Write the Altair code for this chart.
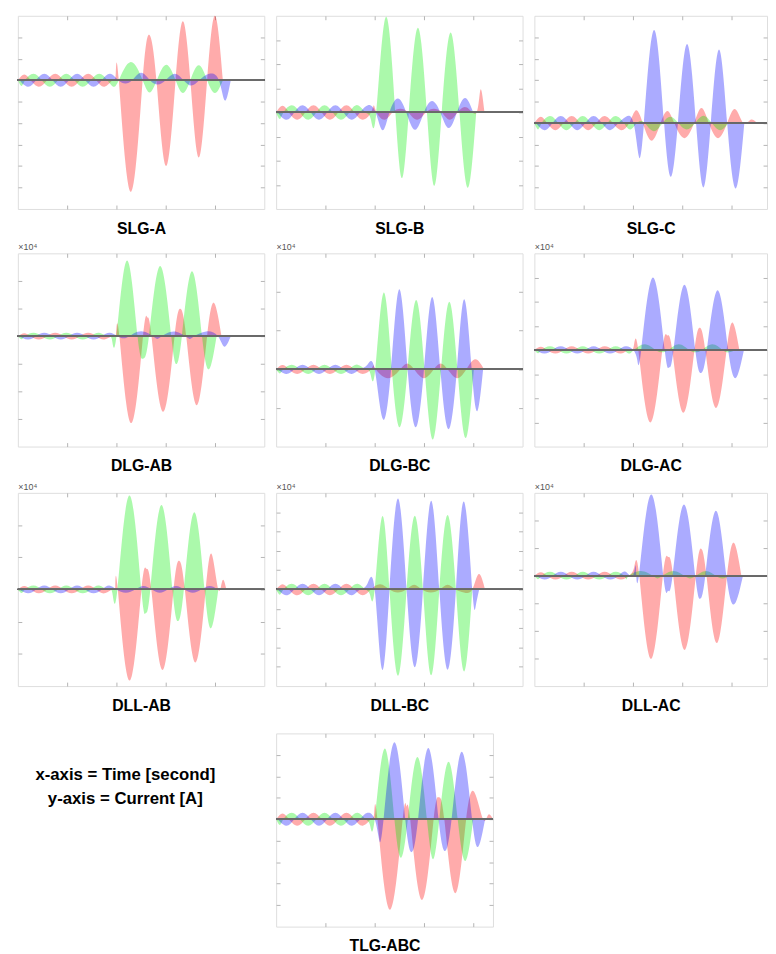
import altair as alt
import pandas as pd

FONT = "Liberation Sans"
FRAME = "#b4b4b4"
PHASES = ["A", "B", "C"]
PHASE_COLORS = ["#ff0000", "#00ee00", "#0000ff"]

# ---- pre-fault (shared shape; zero-crossing times in ms and normalised lobe peaks)
PRE_Z_A = [0, 6.5, 14.8, 23.1, 31.5, 39.8, 48.1]
PRE_P_A = [0.9, -1, 1, -1, 1, -1]
PRE_Z_B = [0, 3.7, 12.1, 20.4, 28.7, 37.1, 45.4]
PRE_P_B = [-0.9, 1, -1, 1, -1, 1]
PRE_Z_C = [0, 0.9, 9.2, 17.6, 25.9, 34.2, 42.6]
PRE_P_C = [0.3, -1, 1, -1, 1, -1]

# ---- panels
PANEL_NAMES = ["SLG-A", "SLG-B", "SLG-C", "DLG-AB", "DLG-BC", "DLG-AC",
               "DLL-AB", "DLL-BC", "DLL-AC", "TLG-ABC"]
Y_MIN = [-6, -4, -4, -4, -2, -4, -3, -5, -4, -5]
Y_MAX = [3, 4, 5, 3, 3, 4, 3, 5, 3, 4]
PRE_AMP = [0.3, 0.3, 0.33, 0.12, 0.12, 0.15, 0.12, 0.3, 0.14, 0.3]
X_MAX = [125, 125, 118, 125, 125, 118, 125, 125, 118, 110]
SHOW_EXP = [False, False, False, True, True, True, True, True, True, False]

# ---- fault section: zero crossings (ms) and lobe peaks per phase
SLG_A_ZA = [48.1, 51.2, 63.3, 70.3, 80, 87.5, 96, 104]
SLG_A_PA = [0.3, -5.2, 2.1, -4.0, 2.75, -3.6, 3.0]
SLG_A_ZB = [45.4, 51.2, 63.3, 70.5, 80, 87.5, 96, 104]
SLG_A_PB = [-0.3, 0.85, -0.57, 0.72, -0.6, 0.69, -0.6]
SLG_A_ZC = [42.6, 51, 58, 67, 75, 84, 92, 102, 108]
SLG_A_PC = [0.3, -0.15, 0.35, -0.2, 0.3, -0.25, 0.3, -0.95]

SLG_B_ZA = [48.1, 51, 59, 67, 76, 84, 92, 101.7, 105.7]
SLG_B_PA = [0.3, -0.3, 0.15, -0.3, 0.15, -0.3, 0.2, 0.95]
SLG_B_ZB = [45.4, 50.8, 60.5, 67.3, 76.5, 84, 93, 101.5]
SLG_B_PB = [-0.3, 3.95, -2.72, 3.5, -3.04, 3.31, -3.12]
SLG_B_ZC = [42.6, 50.5, 57.5, 66, 75, 83.3, 91.7, 100]
SLG_B_PC = [0.3, -0.74, 0.57, -0.72, 0.47, -0.65, 0.6]

SLG_C_ZA = [48.1, 55, 64, 71, 81, 88.5, 97.8, 106, 113]
SLG_C_PA = [0.6, -0.82, 0.57, -0.7, 0.7, -0.7, 0.65, 0.15]
SLG_C_ZB = [45.4, 52, 56, 65, 73, 81.5, 90, 98.5]
SLG_C_PB = [-0.3, 0.1, -0.38, 0.3, -0.3, 0.34, -0.33]
SLG_C_ZC = [42.6, 50.3, 55.6, 65.8, 72.8, 82, 89.5, 97.8, 106.5]
SLG_C_PC = [0.3, -1.54, 4.34, -2.5, 3.69, -3.0, 3.43, -3.05]

DLG_AB_ZA = [48.1, 51.5, 63.5, 67.8, 79.5, 85.4, 96, 103.3]
DLG_AB_PA = [0.1, -3.15, 0.68, -2.74, 0.99, -2.5, 1.19]
DLG_AB_ZB = [45.4, 50, 60.7, 66.5, 77.8, 83.2, 93.4, 100.8]
DLG_AB_PB = [-0.12, 2.74, -0.81, 2.54, -1.01, 2.35, -1.19]
DLG_AB_ZC = [42.6, 50.5, 56.5, 68.5, 73, 85, 89.5, 101.5, 108]
DLG_AB_PC = [0.12, -0.08, 0.18, -0.1, 0.17, -0.1, 0.17, -0.38]

DLG_BC_ZA = [48.1, 50.5, 63, 70, 80, 87, 96.5, 105.5]
DLG_BC_PA = [0.12, -0.23, 0.15, -0.23, 0.15, -0.23, 0.26]
DLG_BC_ZB = [45.4, 50.3, 58.7, 66.7, 75.3, 83.7, 92, 100.3]
DLG_BC_PB = [-0.12, 1.98, -1.5, 1.79, -1.82, 1.75, -1.78]
DLG_BC_ZC = [42.6, 50, 58.3, 66.7, 75, 83.3, 91.7, 99.2, 105]
DLG_BC_PC = [0.12, -1.29, 2.07, -1.5, 1.87, -1.55, 1.81, -1.08]

DLG_AC_ZA = [48.1, 52.7, 64.9, 69.9, 81.2, 86.7, 97.5, 104]
DLG_AC_PA = [0.15, -3.0, 0.6, -2.6, 0.92, -2.4, 1.12]
DLG_AC_ZB = [45.4, 50.5, 61.5, 68, 78.5, 85, 95.5, 102]
DLG_AC_PB = [-0.15, 0.24, -0.1, 0.24, -0.1, 0.24, -0.1]
DLG_AC_ZC = [42.6, 50.2, 54.2, 66.1, 70.6, 81.6, 87.5, 98.3, 106.3]
DLG_AC_PC = [0.15, -0.43, 3.0, -0.72, 2.7, -0.95, 2.47, -1.15]

DLL_AB_ZA = [48.1, 50.7, 62.7, 67.7, 79, 84.7, 95.3, 101.7, 105.8]
DLL_AB_PA = [0.1, -2.83, 0.64, -2.5, 0.89, -2.27, 1.07, 0.28]
DLL_AB_ZB = [45.4, 50.5, 62.6, 67.2, 78.4, 84.2, 94.7, 101.7]
DLL_AB_PB = [-0.12, 2.92, -0.73, 2.62, -0.98, 2.4, -1.19]
DLL_AB_ZC = [42.6, 50, 59.5, 68, 76, 84.5, 93, 101.5]
DLL_AB_PC = [0.12, -0.1, 0.11, -0.1, 0.11, -0.1, 0.11]

DLL_BC_ZA = [48.1, 57.5, 66, 74, 83, 91, 99.5, 106]
DLL_BC_PA = [0.27, -0.15, 0.25, -0.15, 0.25, -0.15, 0.8]
DLL_BC_ZB = [45.4, 50, 57.5, 66.2, 74.5, 82.8, 91.2, 99.5]
DLL_BC_PB = [-0.3, 3.78, -4.47, 3.81, -4.44, 3.86, -4.24]
DLL_BC_ZC = [42.6, 50, 57.5, 66.2, 74.5, 82.8, 91.2, 99.5, 103]
DLL_BC_PC = [0.3, -4.14, 4.71, -4.02, 4.59, -4.15, 4.54, -0.85]

DLL_AC_ZA = [48.1, 53.2, 65.2, 70.4, 81.9, 87.3, 97.7, 105]
DLL_AC_PA = [0.32, -3.01, 0.68, -2.69, 0.98, -2.44, 1.18]
DLL_AC_ZB = [45.4, 48, 60, 65, 76, 82, 92, 99]
DLL_AC_PB = [-0.14, 0.17, -0.1, 0.17, -0.1, 0.17, -0.1]
DLL_AC_ZC = [42.6, 50, 53, 65.4, 70.1, 81.6, 86.7, 97.4, 105.8]
DLL_AC_PC = [0.14, 0.32, 2.94, -0.55, 2.58, -0.83, 2.35, -1.02]

TLG_ZA = [48.1, 51.4, 64.2, 68, 79.9, 85.3, 96.4, 105, 110]
TLG_PA = [0.3, -4.21, 0.59, -3.76, 1.02, -3.45, 1.24, 0.2]
TLG_ZB = [45.4, 50, 60, 66.8, 76.5, 82.8, 92.1, 100]
TLG_PB = [-0.3, 3.29, -1.79, 2.9, -1.86, 2.68, -1.94]
TLG_ZC = [42.6, 50, 54.5, 65.5, 72, 82.4, 89, 99.4, 106]
TLG_PC = [0.3, -0.95, 3.59, -1.53, 3.32, -1.48, 3.14, -1.26]

NOTE_LINES = ["x-axis = Time [second]", "y-axis = Current [A]"]

FAULTS = [
    [(SLG_A_ZA, SLG_A_PA), (SLG_A_ZB, SLG_A_PB), (SLG_A_ZC, SLG_A_PC)],
    [(SLG_B_ZA, SLG_B_PA), (SLG_B_ZB, SLG_B_PB), (SLG_B_ZC, SLG_B_PC)],
    [(SLG_C_ZA, SLG_C_PA), (SLG_C_ZB, SLG_C_PB), (SLG_C_ZC, SLG_C_PC)],
    [(DLG_AB_ZA, DLG_AB_PA), (DLG_AB_ZB, DLG_AB_PB), (DLG_AB_ZC, DLG_AB_PC)],
    [(DLG_BC_ZA, DLG_BC_PA), (DLG_BC_ZB, DLG_BC_PB), (DLG_BC_ZC, DLG_BC_PC)],
    [(DLG_AC_ZA, DLG_AC_PA), (DLG_AC_ZB, DLG_AC_PB), (DLG_AC_ZC, DLG_AC_PC)],
    [(DLL_AB_ZA, DLL_AB_PA), (DLL_AB_ZB, DLL_AB_PB), (DLL_AB_ZC, DLL_AB_PC)],
    [(DLL_BC_ZA, DLL_BC_PA), (DLL_BC_ZB, DLL_BC_PB), (DLL_BC_ZC, DLL_BC_PC)],
    [(DLL_AC_ZA, DLL_AC_PA), (DLL_AC_ZB, DLL_AC_PB), (DLL_AC_ZC, DLL_AC_PC)],
    [(TLG_ZA, TLG_PA), (TLG_ZB, TLG_PB), (TLG_ZC, TLG_PC)],
]
PRE = [(PRE_Z_A, PRE_P_A), (PRE_Z_B, PRE_P_B), (PRE_Z_C, PRE_P_C)]

W_COL = [250, 250, 236]
H = 196


def panel_df(i):
    rows = []
    for ph, (pz, pp), (fz, fp) in zip(PHASES, PRE, FAULTS[i]):
        z = list(pz) + list(fz[1:])
        p = [v * PRE_AMP[i] for v in pp] + list(fp)
        rows.append((z[0], 0.0, ph))
        for k, pk in enumerate(p):
            rows.append(((z[k] + z[k + 1]) / 2.0, pk, ph))
            rows.append((z[k + 1], 0.0, ph))
    return pd.DataFrame(rows, columns=["t", "v", "phase"])


def tick_axis(orient, values, **extra):
    return alt.Axis(orient=orient, values=values, labels=False, domain=False,
                    grid=False, ticks=True, tickSize=4, offset=-4,
                    tickColor=FRAME, tickWidth=1, **extra)


def panel(i, width):
    df = panel_df(i)
    xs = alt.Scale(domain=[0, X_MAX[i]], nice=False, zero=False)
    ys = alt.Scale(domain=[Y_MIN[i], Y_MAX[i]], nice=False)
    xt = [v for v in [25, 50, 75, 100] if v < X_MAX[i]]
    yt = [v for v in range(Y_MIN[i] + 1, Y_MAX[i])]
    base = alt.Chart(df)
    area = base.mark_area(interpolate="natural", fillOpacity=0.33,
                          strokeOpacity=0.14, strokeWidth=0.8).encode(
        x=alt.X("t:Q", scale=xs,
                axis=tick_axis("bottom", xt, title=PANEL_NAMES[i], titleFont=FONT,
                               titleFontSize=16, titleFontWeight="bold",
                               titleColor="black", titlePadding=11)),
        y=alt.Y("v:Q", scale=ys, stack=None, axis=tick_axis("left", yt, title=None)),
        color=alt.Color("phase:N", scale=alt.Scale(domain=PHASES, range=PHASE_COLORS),
                        legend=None),
    )
    if SHOW_EXP[i]:
        top_axis = tick_axis("top", xt, title="×10⁴", titleFont=FONT, titleFontSize=9,
                             titleFontWeight="normal", titleColor="#555555",
                             titleAnchor="start", titleAlign="left", titlePadding=1)
    else:
        top_axis = tick_axis("top", xt, title=None)
    frame = base.mark_point(opacity=0, size=1).encode(
        x=alt.X("t:Q", scale=xs, axis=top_axis),
        y=alt.Y("v:Q", scale=ys, axis=tick_axis("right", yt, title=None)),
    )
    zero = alt.Chart(df).mark_rule(color="#6a6a6a", strokeWidth=1).encode(
        y=alt.YDatum(0, axis=None))
    return alt.layer(area, zero, frame).resolve_axis(
        x="independent", y="independent").properties(width=width, height=H)


p = [panel(i, W_COL[i % 3] if i < 9 else 220) for i in range(10)]

note_df = pd.DataFrame({"line": NOTE_LINES})
note1 = alt.Chart(note_df).transform_filter(alt.datum.line == NOTE_LINES[0]).mark_text(
    font=FONT, fontSize=17, fontWeight="bold", align="center", baseline="middle",
    color="black").encode(text="line:N", x=alt.value(109), y=alt.value(42))
note2 = alt.Chart(note_df).transform_filter(alt.datum.line == NOTE_LINES[1]).mark_text(
    font=FONT, fontSize=17, fontWeight="bold", align="center", baseline="middle",
    color="black").encode(text="line:N", x=alt.value(109), y=alt.value(67))
note = alt.layer(note1, note2).properties(
    width=250, height=H, view=alt.ViewBackground(stroke="transparent"))

row1 = alt.hconcat(p[0], p[1], p[2], spacing=10)
row2 = alt.hconcat(p[3], p[4], p[5], spacing=10)
row3 = alt.hconcat(p[6], p[7], p[8], spacing=10)
row4 = alt.hconcat(note, p[9], spacing=10)

chart = alt.vconcat(
    row1,
    alt.vconcat(row2, alt.vconcat(row3, row4, spacing=19), spacing=8),
    spacing=6,
).properties(
    padding={"left": 9, "top": 0, "right": 0, "bottom": 0},
    background="white",
).configure_view(stroke=FRAME, strokeWidth=1).configure(font=FONT)

chart.save("out.html", embed_options={"renderer": "svg", "actions": False})
